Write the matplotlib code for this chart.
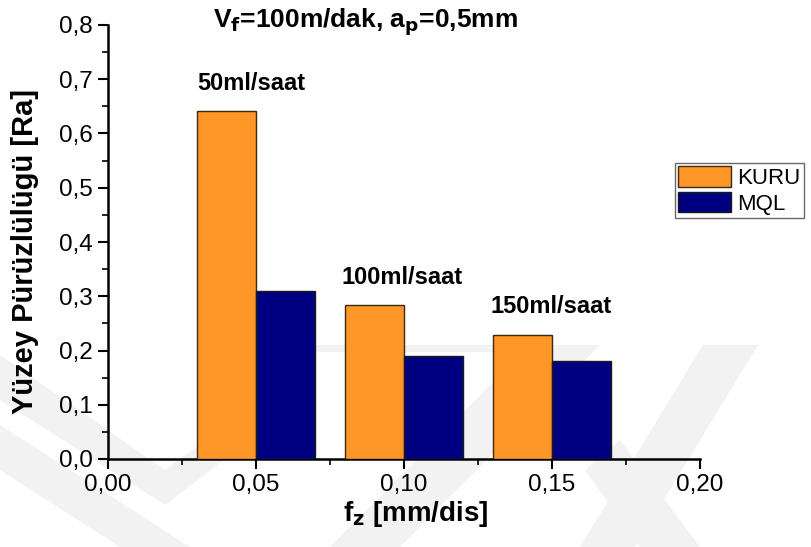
import matplotlib
matplotlib.use('Agg')
import matplotlib.pyplot as plt
from matplotlib.patches import Polygon
from matplotlib.ticker import MultipleLocator, FuncFormatter

plt.rcParams['font.family'] = ['Liberation Sans', 'DejaVu Sans']

# feed per tooth [mm/dis] and surface roughness Ra
fz = [0.05, 0.10, 0.15]
kuru = [0.642, 0.283, 0.229]
mql = [0.309, 0.189, 0.181]
flow_labels = ['50ml/saat', '100ml/saat', '150ml/saat']
label_pos = [(0.0483, 0.680), (0.0995, 0.323), (0.1498, 0.270)]

W, H = 811, 547
fig = plt.figure(figsize=(W / 100, H / 100), dpi=100)

# faint background watermark (pixel coords, y down)
wm_shapes = [
    [(0, 355), (0, 400), (165, 505), (250, 440), (225, 425), (165, 470)],
    [(0, 425), (0, 470), (120, 547), (190, 547)],
    [(330, 547), (400, 547), (600, 345), (530, 345)],
    [(580, 547), (635, 547), (758, 345), (703, 345)],
    [(250, 352), (505, 352), (512, 345), (255, 345)],
    [(585, 470), (640, 547), (700, 547), (620, 440)],
]
for pts in wm_shapes:
    fig.add_artist(Polygon([(x / W, 1 - y / H) for x, y in pts], closed=True,
                           transform=fig.transFigure, facecolor='#f2f2f2',
                           edgecolor='none', zorder=0))

ax = fig.add_axes([108 / W, 1 - 459 / H, 592 / W, 434 / H])
ax.set_facecolor('none')

w = 0.02
ax.bar([x - w / 2 for x in fz], kuru, width=w, color='#ff9628',
       edgecolor='#3a2a10', linewidth=1, label='KURU', zorder=3)
ax.bar([x + w / 2 for x in fz], mql, width=w, color='#000080',
       edgecolor='#1a1a1a', linewidth=1, label='MQL', zorder=3)

for txt, (x, y) in zip(flow_labels, label_pos):
    ax.text(x, y, txt, ha='center', va='baseline', fontsize=17,
            fontweight='bold', zorder=4)

ax.set_xlim(0, 0.20)
ax.set_ylim(0, 0.8)
ax.xaxis.set_major_locator(MultipleLocator(0.05))
ax.xaxis.set_minor_locator(MultipleLocator(0.025))
ax.yaxis.set_major_locator(MultipleLocator(0.1))
ax.yaxis.set_minor_locator(MultipleLocator(0.05))
ax.xaxis.set_major_formatter(FuncFormatter(lambda v, p: f'{v:.2f}'.replace('.', ',')))
ax.yaxis.set_major_formatter(FuncFormatter(lambda v, p: f'{v:.1f}'.replace('.', ',')))

for side in ['top', 'right']:
    ax.spines[side].set_visible(False)
for side in ['left', 'bottom']:
    ax.spines[side].set_linewidth(1.8)
ax.tick_params(which='major', direction='out', length=7, width=1.5,
               labelsize=17.5, pad=4)
ax.tick_params(which='minor', direction='out', length=4, width=1.2)

ax.set_xlabel('f$_\\mathbf{z}$ [mm/dis]', fontsize=20, fontweight='bold')
ax.set_ylabel('Yüzey Pürüzlülügü [Ra]', fontsize=21, fontweight='bold')
ax.xaxis.set_label_coords(0.519, -0.092)
ax.yaxis.set_label_coords(-0.117, 0.477)
fig.text(366 / W, 1 - 28 / H, 'V$_\\mathbf{f}$=100m/dak, a$_\\mathbf{p}$=0,5mm',
         ha='center', va='baseline', fontsize=19, fontweight='bold')

leg = ax.legend(loc='upper left', bbox_to_anchor=(675 / W, 1 - 163 / H),
                bbox_transform=fig.transFigure, fontsize=16, frameon=True,
                fancybox=False, handlelength=2.35, handleheight=1.05,
                labelspacing=0.12, borderpad=0.15, handletextpad=0.3,
                borderaxespad=0)
leg.get_frame().set_edgecolor('#444444')
leg.get_frame().set_linewidth(1.0)

fig.savefig('out.png', dpi=100)
